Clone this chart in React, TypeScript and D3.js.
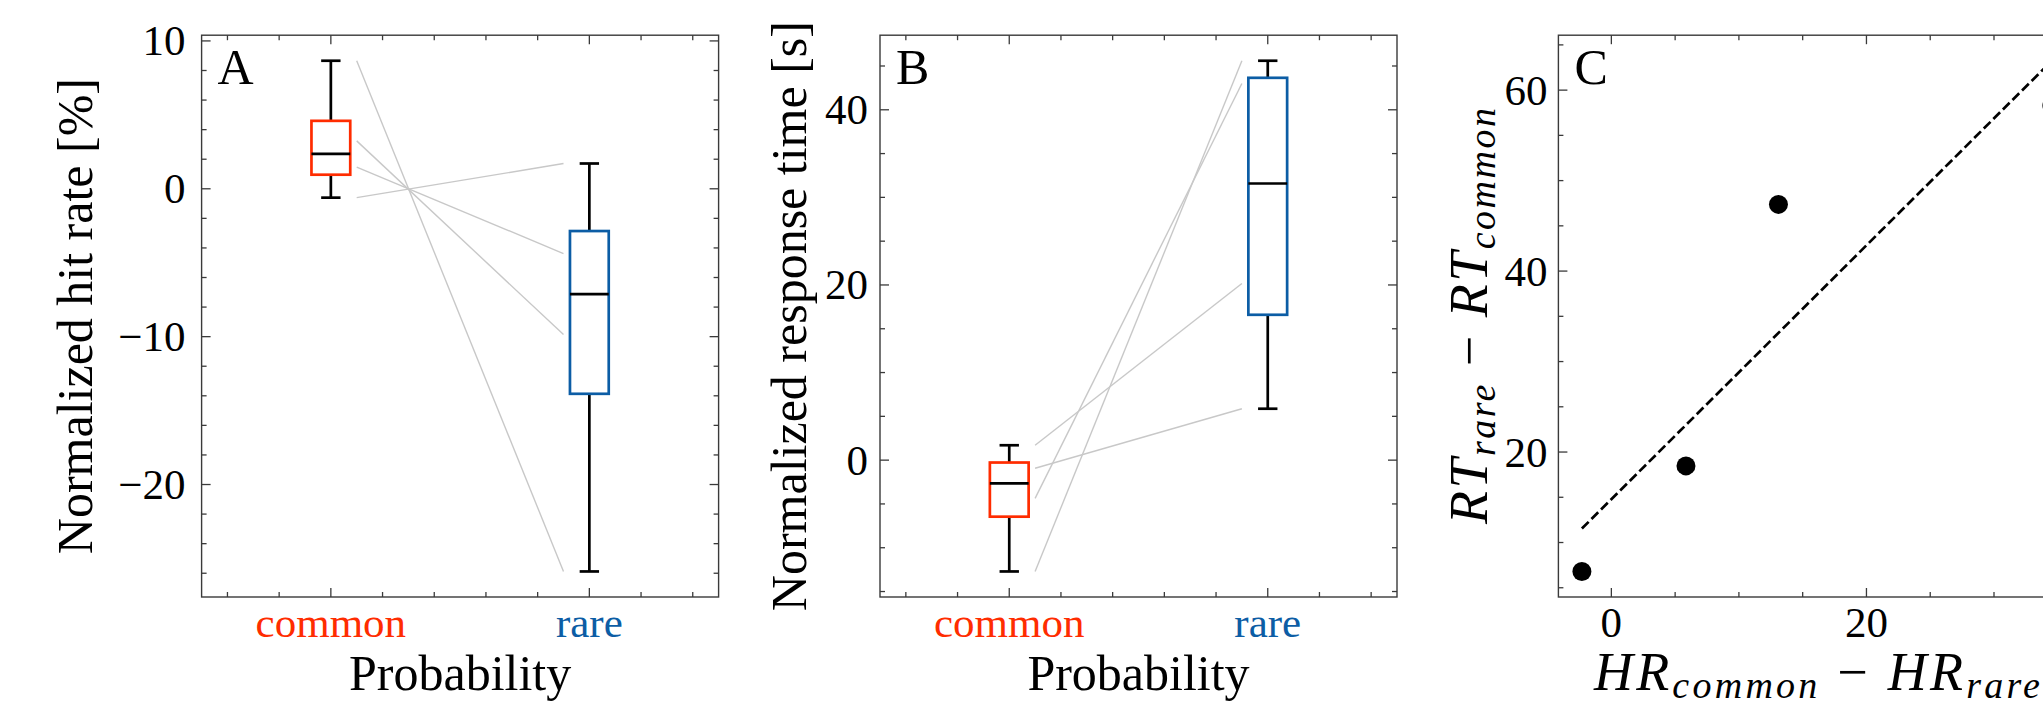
import React from "react";
import * as d3 from "d3";

// four subjects, same order in every array
const categories = ["common", "rare"];
const categoryColors = ["#FF2C00", "#0C5DA5"];

const hitCommon = [8.66, 3.24, 1.47, -0.6];
const hitRare = [-25.88, -9.86, -4.38, 1.71];
const rtCommon = [-12.71, -4.37, 1.7, -0.93];
const rtRare = [45.6, 43.0, 20.17, 5.87];

const hitTicks = [-20, -10, 0, 10];
const rtTicks = [0, 20, 40];
const diffXTicks = [0, 20, 40];
const diffYTicks = [20, 40, 60];
const panelLetters = ["A", "B", "C"];

// layout
const W = 2043;
const H = 708;
const TOP = 35.2;
const BOTTOM = 597;
const PANEL_W = 517;
const LEFTS = [201.6, 880, 1558.4];
const FONT = "Liberation Serif, DejaVu Serif, Times New Roman, Times, serif";
const SPINE = "#3a3a3a";
const TICK_FS = 43;
const LABEL_FS = 50;
const fmt = d3.format("d");

function padDomain(values: number[]): [number, number] {
  const [lo, hi] = d3.extent(values) as [number, number];
  const m = (hi - lo) * 0.05;
  return [lo - m, hi + m];
}

function inDomain(v: number, dom: number[]) {
  const lo = Math.min(dom[0], dom[1]);
  const hi = Math.max(dom[0], dom[1]);
  return v >= lo - 1e-9 && v <= hi + 1e-9;
}

function minorTicks(dom: number[], step: number, majors: number[]) {
  const i0 = Math.ceil(dom[0] / step);
  const i1 = Math.floor(dom[1] / step);
  return d3
    .range(i0, i1 + 1)
    .map((i) => i * step)
    .filter((v) => !majors.some((m) => Math.abs(m - v) < 1e-6));
}

function boxStats(values: number[]) {
  const s = values.slice().sort(d3.ascending);
  const q1 = d3.quantileSorted(s, 0.25)!;
  const med = d3.quantileSorted(s, 0.5)!;
  const q3 = d3.quantileSorted(s, 0.75)!;
  const iqr = q3 - q1;
  const lo = d3.min(s.filter((v) => v >= q1 - 1.5 * iqr))!;
  const hi = d3.max(s.filter((v) => v <= q3 + 1.5 * iqr))!;
  return { q1, med, q3, lo, hi };
}

function Txt(props: any) {
  return <text fontFamily={FONT} fill="#000" {...props} />;
}

function Frame({ x, y, xMajor, xMinor, yMajor, yMinor }: any) {
  const [x0, x1] = x.range();
  const xs = xMajor.filter((v: number) => inDomain(v, x.domain()));
  const ys = yMajor.filter((v: number) => inDomain(v, y.domain()));
  const tick = (key: string, x1_: number, y1_: number, x2_: number, y2_: number) => (
    <line key={key} x1={x1_} y1={y1_} x2={x2_} y2={y2_} stroke={SPINE} strokeWidth={1.3} />
  );
  return (
    <g>
      <rect x={x0} y={TOP} width={x1 - x0} height={BOTTOM - TOP} fill="none" stroke={SPINE} strokeWidth={1.4} />
      {xs.map((v: number) => (
        <g key={"xM" + v}>
          {tick("b", x(v), BOTTOM, x(v), BOTTOM - 9)}
          {tick("t", x(v), TOP, x(v), TOP + 9)}
        </g>
      ))}
      {xMinor.map((v: number) => (
        <g key={"xm" + v}>
          {tick("b", x(v), BOTTOM, x(v), BOTTOM - 5)}
          {tick("t", x(v), TOP, x(v), TOP + 5)}
        </g>
      ))}
      {ys.map((v: number) => (
        <g key={"yM" + v}>
          {tick("l", x0, y(v), x0 + 9, y(v))}
          {tick("r", x1, y(v), x1 - 9, y(v))}
        </g>
      ))}
      {yMinor.map((v: number) => (
        <g key={"ym" + v}>
          {tick("l", x0, y(v), x0 + 5, y(v))}
          {tick("r", x1, y(v), x1 - 5, y(v))}
        </g>
      ))}
    </g>
  );
}

function YTickLabels({ y, ticks, left, pad }: any) {
  return (
    <g>
      {ticks
        .filter((v: number) => inDomain(v, y.domain()))
        .map((v: number) => (
          <Txt key={v} x={left - pad} y={y(v)} textAnchor="end" dominantBaseline="central" fontSize={TICK_FS}>
            {fmt(v)}
          </Txt>
        ))}
    </g>
  );
}

function BoxPanel({ idx, common, rare, yTicks, yMinorStep, yLabel, yLabelX, yPad }: any) {
  const left = LEFTS[idx];
  const x = d3.scaleLinear().domain([0.5, 2.5]).range([left, left + PANEL_W]);
  const y = d3.scaleLinear().domain(padDomain([...common, ...rare])).range([BOTTOM, TOP]);
  const groups = [common, rare];
  const halfW = 0.075;
  const capW = 0.0375;
  const xMinor = minorTicks(x.domain(), 0.2, [1, 2]);
  const yMinor = minorTicks(y.domain(), yMinorStep, yTicks);
  return (
    <g>
      {common.map((c: number, i: number) => (
        <line key={"p" + i} x1={x(1.1)} y1={y(c)} x2={x(1.9)} y2={y(rare[i])} stroke="#c8c8c8" strokeWidth={1.4} />
      ))}
      {groups.map((vals: number[], g: number) => {
        const s = boxStats(vals);
        const pos = g + 1;
        return (
          <g key={g}>
            <line x1={x(pos)} x2={x(pos)} y1={y(s.q3)} y2={y(s.hi)} stroke="#000" strokeWidth={2.7} />
            <line x1={x(pos)} x2={x(pos)} y1={y(s.q1)} y2={y(s.lo)} stroke="#000" strokeWidth={2.7} />
            <line x1={x(pos - capW)} x2={x(pos + capW)} y1={y(s.hi)} y2={y(s.hi)} stroke="#000" strokeWidth={2.7} />
            <line x1={x(pos - capW)} x2={x(pos + capW)} y1={y(s.lo)} y2={y(s.lo)} stroke="#000" strokeWidth={2.7} />
            <rect
              x={x(pos - halfW)}
              y={y(s.q3)}
              width={x(pos + halfW) - x(pos - halfW)}
              height={y(s.q1) - y(s.q3)}
              fill="none"
              stroke={categoryColors[g]}
              strokeWidth={2.7}
            />
            <line x1={x(pos - halfW)} x2={x(pos + halfW)} y1={y(s.med)} y2={y(s.med)} stroke="#000" strokeWidth={2.7} />
            <Txt x={x(pos)} y={BOTTOM + 40} textAnchor="middle" fontSize={TICK_FS} fill={categoryColors[g]}>
              {categories[g]}
            </Txt>
          </g>
        );
      })}
      <Frame x={x} y={y} xMajor={[1, 2]} xMinor={xMinor} yMajor={yTicks} yMinor={yMinor} />
      <YTickLabels y={y} ticks={yTicks} left={left} pad={yPad} />
      <Txt x={left + 16} y={84} fontSize={LABEL_FS}>
        {panelLetters[idx]}
      </Txt>
      <Txt x={left + PANEL_W / 2} y={690} textAnchor="middle" fontSize={LABEL_FS}>
        Probability
      </Txt>
      <Txt
        transform={`translate(${yLabelX},${(TOP + BOTTOM) / 2}) rotate(-90)`}
        textAnchor="middle"
        fontSize={LABEL_FS}
      >
        {yLabel}
      </Txt>
    </g>
  );
}

function ScatterPanel() {
  const left = LEFTS[2];
  const hrDiff = hitCommon.map((v, i) => v - hitRare[i]);
  const rtDiff = rtRare.map((v, i) => v - rtCommon[i]);
  const mx = d3.mean(hrDiff)!;
  const my = d3.mean(rtDiff)!;
  const slope =
    d3.sum(hrDiff, (v, i) => (v - mx) * (rtDiff[i] - my)) / d3.sum(hrDiff, (v) => (v - mx) * (v - mx));
  const intercept = my - slope * mx;
  const lineX = d3.extent(hrDiff) as [number, number];
  const lineY = lineX.map((v) => intercept + slope * v);

  const x = d3.scaleLinear().domain(padDomain(hrDiff)).range([left, left + PANEL_W]);
  const y = d3.scaleLinear().domain(padDomain([...rtDiff, ...lineY])).range([BOTTOM, TOP]);
  const line = d3
    .line<number>()
    .x((v) => x(v))
    .y((v) => y(intercept + slope * v));

  return (
    <g>
      <path d={line(lineX) || ""} fill="none" stroke="#000" strokeWidth={2.7} strokeDasharray="9.5 4" />
      {hrDiff.map((v, i) => (
        <circle key={i} cx={x(v)} cy={y(rtDiff[i])} r={9.5} fill="#000" />
      ))}
      <Frame
        x={x}
        y={y}
        xMajor={diffXTicks}
        xMinor={minorTicks(x.domain(), 5, diffXTicks)}
        yMajor={diffYTicks}
        yMinor={minorTicks(y.domain(), 5, diffYTicks)}
      />
      <YTickLabels y={y} ticks={diffYTicks} left={left} pad={11} />
      {diffXTicks
        .filter((v) => inDomain(v, x.domain()))
        .map((v) => (
          <Txt key={v} x={x(v)} y={BOTTOM + 40} textAnchor="middle" fontSize={TICK_FS}>
            {fmt(v)}
          </Txt>
        ))}
      <Txt x={left + 16} y={84} fontSize={LABEL_FS}>
        {panelLetters[2]}
      </Txt>
      <Txt
        x={left + PANEL_W / 2}
        y={690}
        textAnchor="middle"
        fontSize={54}
        fontStyle="italic"
        textLength={446}
        lengthAdjust="spacing"
      >
        HR<tspan fontSize={38} dy={8}>common</tspan>
        <tspan dy={-8} fontStyle="normal"> − </tspan>HR<tspan fontSize={38} dy={8}>rare</tspan>
      </Txt>
      <Txt
        transform={`translate(1487,${(TOP + BOTTOM) / 2}) rotate(-90)`}
        textAnchor="middle"
        fontSize={54}
        fontStyle="italic"
        textLength={416}
        lengthAdjust="spacing"
      >
        RT<tspan fontSize={38} dy={8}>rare</tspan>
        <tspan dy={-8} fontStyle="normal"> − </tspan>RT<tspan fontSize={38} dy={8}>common</tspan>
      </Txt>
    </g>
  );
}

export default function App() {
  return (
    <div>
      <style>{`body{margin:0;background:#fff}`}</style>
      <svg width={W} height={H} style={{ display: "block" }} fontFamily={FONT}>
        <rect width={W} height={H} fill="#fff" />
        <BoxPanel
          idx={0}
          common={hitCommon}
          rare={hitRare}
          yTicks={hitTicks}
          yMinorStep={2}
          yLabel="Normalized hit rate [%]"
          yLabelX={92}
          yPad={16}
        />
        <BoxPanel
          idx={1}
          common={rtCommon}
          rare={rtRare}
          yTicks={rtTicks}
          yMinorStep={5}
          yLabel="Normalized response time [s]"
          yLabelX={806}
          yPad={12}
        />
        <ScatterPanel />
      </svg>
    </div>
  );
}
